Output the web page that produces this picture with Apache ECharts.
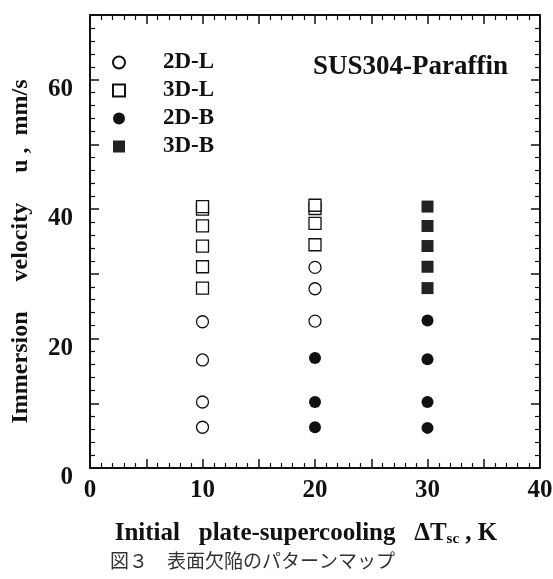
<!DOCTYPE html>
<html>
<head>
<meta charset="utf-8">
<script src="https://cdn.jsdelivr.net/npm/echarts@6/dist/echarts.min.js"></script>
<style>
  html, body { margin: 0; padding: 0; background: #fff; }
  #chart { width: 553px; height: 579px; }
</style>
</head>
<body>
<div id="chart"></div>
<script>
// surface defect pattern map
const seriesNames = ["2D-L", "3D-L", "2D-B", "3D-B"];
const data2DL = [[10, 6.3], [10, 10.2], [10, 16.7], [10, 22.6], [20, 22.7], [20, 27.7], [20, 31.0]];
const data3DL = [[10, 27.8], [10, 31.1], [10, 34.3], [10, 37.4], [10, 40.0], [10, 40.4],
                 [20, 34.5], [20, 37.8], [20, 40.1], [20, 40.6]];
const data2DB = [[20, 6.3], [20, 10.2], [20, 17.0], [30, 6.2], [30, 10.2], [30, 16.8], [30, 22.8]];
const data3DB = [[30, 27.8], [30, 31.1], [30, 34.3], [30, 37.4], [30, 40.4]];
const xLabels = [0, 10, 20, 30, 40];
const yLabels = [0, 20, 40, 60];

const FONT = "'Liberation Serif', 'Times New Roman', serif";
const INK = "#111";

const chart = echarts.init(document.getElementById("chart"));

function axisBase(showLabel) {
  return {
    axisLine: { show: true, onZero: false, lineStyle: { color: INK, width: 2 } },
    axisTick: { show: true, inside: true, length: 9, lineStyle: { color: INK, width: 1.5 } },
    minorTick: { show: true, splitNumber: 5, length: 5, lineStyle: { color: INK, width: 1.2 } },
    splitLine: { show: false },
    axisLabel: { show: showLabel }
  };
}

const xBottom = Object.assign(axisBase(true), {
  type: "value", position: "bottom", min: 0, max: 40, interval: 5,
  name: "Initial   plate-supercooling   ΔT{sub|sc} , K",
  nameLocation: "middle", nameGap: 52,
  nameTextStyle: {
    fontFamily: FONT, fontWeight: "bold", fontSize: 25, color: INK, padding: [0, 18, 0, 0],
    rich: { sub: { fontFamily: FONT, fontWeight: "bold", fontSize: 15, color: INK, verticalAlign: "bottom", padding: [12, 0, 0, 0] } }
  }
});
xBottom.axisLabel = {
  show: true, margin: 10, fontFamily: FONT, fontWeight: "bold", fontSize: 25, color: INK,
  formatter: v => (xLabels.includes(v) ? String(v) : "")
};

const yLeft = Object.assign(axisBase(true), {
  type: "value", position: "left", min: 0, max: 70, interval: 10,
  name: "Immersion     velocity     u ,  mm/s",
  nameLocation: "middle", nameGap: 57,
  nameTextStyle: { fontFamily: FONT, fontWeight: "bold", fontSize: 24, color: INK, padding: [0, 0, 0, -20] }
});
yLeft.axisLabel = {
  show: true, margin: 17, verticalAlign: "top", fontFamily: FONT, fontWeight: "bold", fontSize: 25, color: INK,
  padding: [-3, 0, 0, 0],
  formatter: v => (yLabels.includes(v) ? String(v) : "")
};

const xTop = Object.assign(axisBase(false), { type: "value", position: "top", min: 0, max: 40, interval: 5 });
const yRight = Object.assign(axisBase(false), { type: "value", position: "right", min: 0, max: 70, interval: 10 });

function scatter(name, data, symbol, fill) {
  return {
    name: name,
    type: "scatter",
    xAxisIndex: 0,
    yAxisIndex: 0,
    symbol: symbol,
    symbolSize: 12,
    data: data,
    itemStyle: { color: fill, opacity: 1, borderColor: INK, borderWidth: fill === "#fff" ? 1.3 : 0 },
    emphasis: { disabled: true }
  };
}

const option = {
  animation: false,
  backgroundColor: "#fff",
  grid: { left: 90, right: 13, top: 15, bottom: 111, outerBoundsMode: "none", containLabel: false },
  title: [
    {
      text: "SUS304-Paraffin",
      right: 40, top: 49,
      textStyle: { fontFamily: FONT, fontWeight: "bold", fontSize: 27, color: INK }
    },
    {
      text: "図３　表面欠陥のパターンマップ",
      left: 105, top: 546,
      textStyle: { fontFamily: "'Noto Sans CJK JP'", fontWeight: "normal", fontSize: 19, color: "#333" }
    }
  ],
  legend: {
    orient: "vertical",
    left: 112, top: 51, padding: 0,
    itemWidth: 12, itemHeight: 12, itemGap: 5,
    data: seriesNames,
    selectedMode: false,
    textStyle: { fontFamily: FONT, fontWeight: "bold", fontSize: 23, color: INK, padding: [0, 0, 0, 33], lineHeight: 22 }
  },
  xAxis: [xBottom, xTop],
  yAxis: [yLeft, yRight],
  series: [
    scatter("2D-L", data2DL, "circle", "#fff"),
    scatter("3D-L", data3DL, "rect", "#fff"),
    scatter("2D-B", data2DB, "circle", "#111"),
    scatter("3D-B", data3DB, "rect", "#222")
  ]
};

chart.setOption(option);
</script>
</body>
</html>
